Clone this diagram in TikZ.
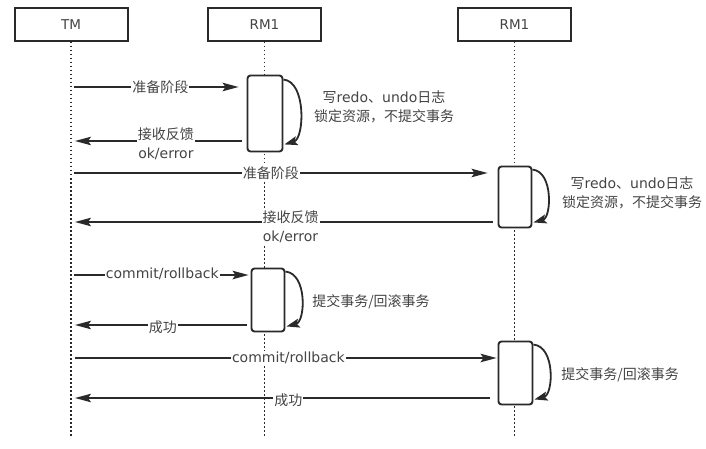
\documentclass[tikz,border=0pt]{standalone}
\usepackage{fontspec}
\setmainfont{Noto Sans CJK SC}
\newfontfamily\lat{DejaVu Sans}
\usetikzlibrary{arrows.meta}
\definecolor{ln}{HTML}{2A2A2A}
\definecolor{tx}{HTML}{444444}
\begin{document}
\begin{tikzpicture}[x=1pt,y=-1pt,
  hdr/.style={draw=ln, line width=2pt, minimum width=113pt, minimum height=33pt, inner sep=0pt, text=tx, font=\lat\fontsize{13.5}{16}\selectfont},
  act/.style={draw=ln, line width=1.9pt, rounded corners=3pt, fill=white, inner sep=0pt},
  life/.style={draw=ln, line width=1.8pt, dash pattern=on 1.5pt off 2.5pt},
  msg/.style={draw=ln, line width=1.5pt, -{Stealth[length=16pt,width=8.5pt,inset=3pt]}},
  lbl/.style={fill=white, inner sep=1pt, text=tx, font=\fontsize{14}{19}\selectfont, align=center},
  selfl/.style={draw=ln, line width=1.8pt, -{Stealth[length=13pt,width=9pt,inset=2.5pt]}},
  note/.style={inner sep=0pt, text=tx, font=\fontsize{14}{19}\selectfont, align=center}
]
\useasboundingbox[fill=white] (0,0) rectangle (706,449);

% headers
\node[hdr] (TM) at (71,24.5) {TM};
\node[hdr] (R1) at (264.5,24.5) {RM1};
\node[hdr] (R2) at (514.5,24.5) {RM1};

% lifelines
\coordinate (TMe) at (71,436);
\coordinate (R1e) at (264.5,436);
\coordinate (R2e) at (514.5,436);
\draw[life] (TM.south) -- (TMe);
\draw[life] (R1.south) -- (R1e);
\draw[life] (R2.south) -- (R2e);

% activation boxes
\node[act, minimum width=35pt, minimum height=76pt] (A1) at (265,113.5) {};
\node[act, minimum width=33pt, minimum height=61pt] (A2) at (515,197) {};
\node[act, minimum width=33pt, minimum height=63pt] (A3) at (268,300) {};
\node[act, minimum width=34pt, minimum height=63pt] (A4) at (515.5,373) {};

% message end points on TM lifeline
\coordinate (t1) at (74,87);
\coordinate (t2) at (75,141);
\coordinate (t3) at (74,173);
\coordinate (t4) at (75,222);
\coordinate (t5) at (74,275);
\coordinate (t6) at (75,325);
\coordinate (t7) at (75,358);
\coordinate (t8) at (75,398);

% phase 1
\draw[msg, shorten >=8pt] (t1) -- (A1.west |- t1)
  node[lbl, pos=0.5] {准备阶段};
\draw[msg, shorten <=5pt] (A1.west |- t2) -- (t2)
  node[lbl, pos=0.47, yshift=-3pt] {接收反馈\\{\lat ok/error}};
\draw[msg, shorten >=10pt] (t3) -- (A2.west |- t3)
  node[lbl, pos=0.465] {准备阶段};
\draw[msg, shorten <=5pt] (A2.west |- t4) -- (t4)
  node[lbl, pos=0.49, yshift=-5pt] {接收反馈\\{\lat ok/error}};

% phase 2
\draw[msg, shorten >=2pt] (t5) -- (A3.west |- t5)
  node[lbl, pos=0.5, yshift=1pt] {{\lat commit/rollback}};
\draw[msg, shorten <=4pt] (A3.west |- t6) -- (t6)
  node[lbl, pos=0.5, yshift=-2pt] {成功};
\draw[msg, shorten >=1pt] (t7) -- (A4.west |- t7)
  node[lbl, pos=0.505] {{\lat commit/rollback}};
\draw[msg, shorten <=8pt] (A4.west |- t8) -- (t8)
  node[lbl, pos=0.495, yshift=-2pt] {成功};

% self loops
\draw[selfl] ([yshift=-5pt]A1.north east) .. controls +(23,2) and +(20,-6) .. ([xshift=1pt,yshift=8pt]A1.south east);
\draw[selfl] ([yshift=-4pt]A2.north east) .. controls +(21,2) and +(18,-5) .. ([xshift=1pt,yshift=6pt]A2.south east);
\draw[selfl] ([yshift=-4pt]A3.north east) .. controls +(22,2) and +(19,-5) .. ([xshift=1pt,yshift=6pt]A3.south east);
\draw[selfl] ([yshift=-4pt]A4.north east) .. controls +(22,2) and +(19,-5) .. ([xshift=1pt,yshift=6pt]A4.south east);

% notes
\node[note] (n1) at (384,107) {写{\lat redo}、{\lat undo}日志\\锁定资源，不提交事务};
\node[note] (n2) at (632,193) {写{\lat redo}、{\lat undo}日志\\锁定资源，不提交事务};
\node[note] (n3) at (371,302) {提交事务/回滚事务};
\node[note] (n4) at (620,375) {提交事务/回滚事务};
\end{tikzpicture}
\end{document}
